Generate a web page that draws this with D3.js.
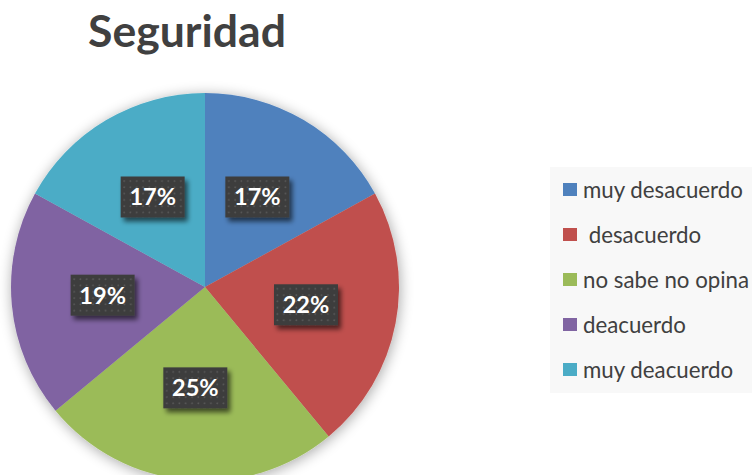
<!DOCTYPE html>
<html><head><meta charset="utf-8">
<script src="https://cdn.jsdelivr.net/npm/d3@7"></script>
<style>html,body{margin:0;padding:0;background:#fff;}svg{display:block;}</style>
</head><body>
<script>
const title = "Seguridad";
const categories = ["muy desacuerdo", " desacuerdo", "no sabe no opina", "deacuerdo", "muy deacuerdo"];
const values = [17, 22, 25, 19, 17];
const labels = ["17%", "22%", "25%", "19%", "17%"];
const colors = ["#4F81BD", "#C0504D", "#9BBB59", "#8064A2", "#4BACC6"];

const W = 752, H = 475;
const svg = d3.select("body").append("svg").attr("width", W).attr("height", H);
const defs = svg.append("defs");

const f = defs.append("filter").attr("id","pieShadow").attr("x","-20%").attr("y","-20%").attr("width","140%").attr("height","140%");
f.append("feGaussianBlur").attr("in","SourceAlpha").attr("stdDeviation",7).attr("result","b");
f.append("feOffset").attr("in","b").attr("dx",1).attr("dy",2).attr("result","o");
f.append("feComponentTransfer").attr("in","o").attr("result","s").append("feFuncA").attr("type","linear").attr("slope",0.35);
const m = f.append("feMerge"); m.append("feMergeNode").attr("in","s"); m.append("feMergeNode").attr("in","SourceGraphic");

const f2 = defs.append("filter").attr("id","boxShadow").attr("x","-30%").attr("y","-30%").attr("width","170%").attr("height","170%");
f2.append("feGaussianBlur").attr("in","SourceAlpha").attr("stdDeviation",2.5).attr("result","b");
f2.append("feOffset").attr("in","b").attr("dx",3).attr("dy",4).attr("result","o");
f2.append("feComponentTransfer").attr("in","o").attr("result","s").append("feFuncA").attr("type","linear").attr("slope",0.6);
const m2 = f2.append("feMerge"); m2.append("feMergeNode").attr("in","s"); m2.append("feMergeNode").attr("in","SourceGraphic");

const pat = defs.append("pattern").attr("id","dots").attr("width",6.3).attr("height",6.3).attr("patternUnits","userSpaceOnUse");
pat.append("rect").attr("width",6.3).attr("height",6.3).attr("fill","#3d3d3d");
pat.append("circle").attr("cx",3).attr("cy",3).attr("r",0.9).attr("fill","#5a5a5a");

// Title
const t = svg.append("text").attr("x",187).attr("y",47).attr("text-anchor","middle")
  .attr("font-family","Lato, 'Open Sans', sans-serif").attr("font-weight","bold")
  .attr("font-size",40).attr("fill","#404040").text(title);
const tw = t.node().getComputedTextLength();
t.attr("font-size", 40 * 198 / tw);

// Pie
const cx = 205, cy = 287, R = 194;
const pie = d3.pie().sort(null).value(d => d);
const arcs = pie(values);
const arc = d3.arc().innerRadius(0).outerRadius(R);
const labelArc = d3.arc().innerRadius(R*0.53).outerRadius(R*0.53);
const g = svg.append("g").attr("transform",`translate(${cx},${cy})`);
g.append("g").attr("filter","url(#pieShadow)").selectAll("path").data(arcs).join("path")
  .attr("d",arc).attr("fill",(d,i)=>colors[i]);

const bw = 64, bh = 41;
const lg = g.selectAll("g.lbl").data(arcs).join("g").attr("class","lbl")
  .attr("transform", d => { const c = labelArc.centroid(d); return `translate(${c[0]},${c[1] - 1.5})`; });
lg.append("rect").attr("x",-bw/2).attr("y",-bh/2).attr("width",bw).attr("height",bh)
  .attr("fill","url(#dots)").attr("filter","url(#boxShadow)");
lg.append("text").attr("text-anchor","middle").attr("dy","0.36em")
  .attr("font-family","Lato, 'Open Sans', sans-serif").attr("font-weight","bold")
  .attr("font-size",23.5).attr("fill","#fff").text((d,i)=>labels[i]);

// Legend
const leg = svg.append("g");
leg.append("rect").attr("x",550).attr("y",167).attr("width",202).attr("height",226).attr("fill","#f8f8f8");
const rows = leg.selectAll("g.row").data(categories).join("g").attr("class","row")
  .attr("transform",(d,i)=>`translate(563,${190 + i*45})`);
rows.append("rect").attr("x",0).attr("y",-7).attr("width",14).attr("height",13).attr("fill",(d,i)=>colors[i]);
const lt = rows.append("text").attr("x",20).attr("dy","0.35em").attr("xml:space","preserve").style("white-space","pre")
  .attr("font-family","Lato, 'Open Sans', sans-serif").attr("font-size",20).attr("fill","#404040").text(d=>d);
const w0 = lt.nodes()[0].getComputedTextLength();
lt.attr("font-size", 20 * 160 / w0);
</script>
</body></html>
